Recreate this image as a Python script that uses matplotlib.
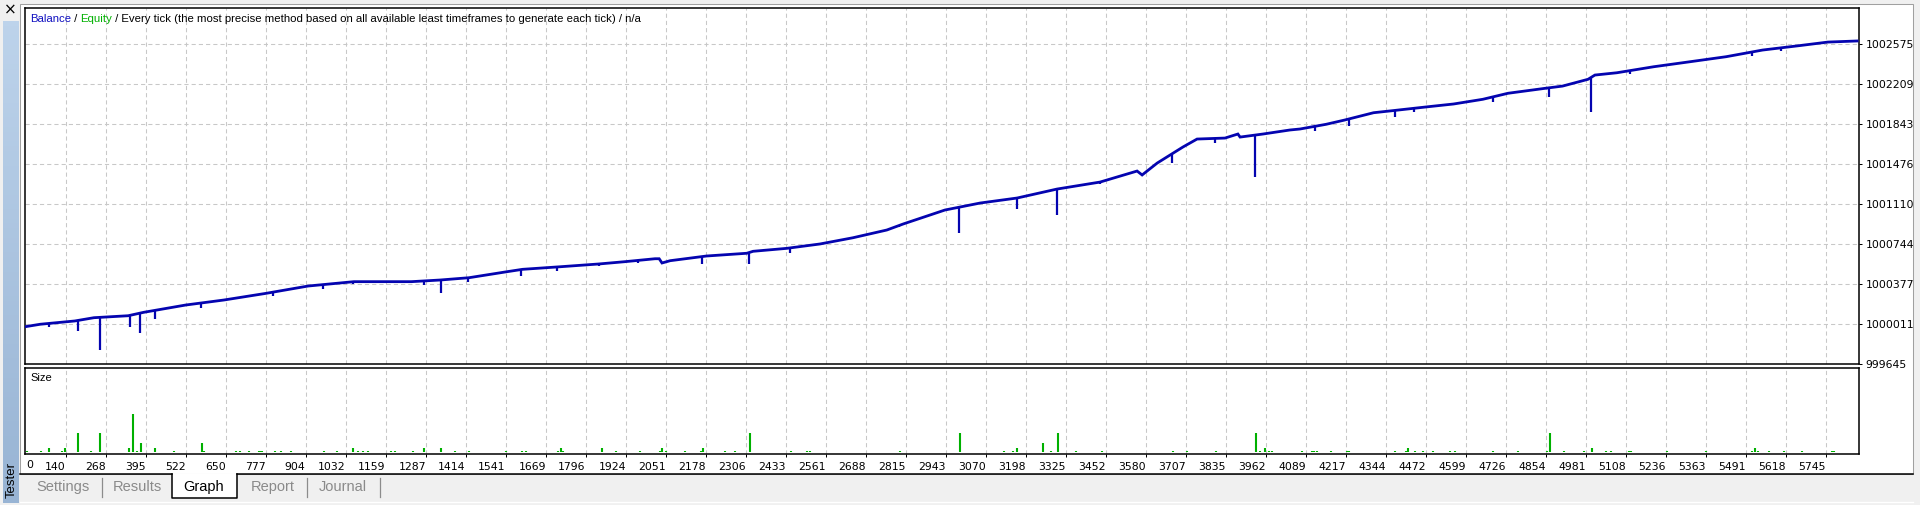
import numpy as np
import matplotlib.pyplot as plt
from matplotlib.patches import Rectangle
from matplotlib.lines import Line2D
from matplotlib.colors import LinearSegmentedColormap

# balance curve (trade number, balance)
trade_no = [10, 59, 169, 230, 339, 388, 522, 644, 778, 912, 1058, 1241, 1332, 1424,
            1545, 1595, 1717, 1838, 1921, 2017, 2030, 2039, 2065, 2181, 2309, 2329,
            2436, 2542, 2647, 2755, 2807, 2861, 2940, 3052, 3170, 3297, 3434, 3552,
            3568, 3616, 3698, 3743, 3832, 3873, 3880, 3953, 4039, 4071, 4154, 4213,
            4305, 4363, 4479, 4560, 4653, 4733, 4850, 4907, 4988, 5010, 5080, 5197,
            5313, 5428, 5544, 5660, 5752, 5845]
balance = [999986, 1000009, 1000039, 1000069, 1000087, 1000118, 1000185, 1000231,
           1000292, 1000359, 1000399, 1000399, 1000414, 1000435, 1000490, 1000512,
           1000536, 1000561, 1000582, 1000609, 1000609, 1000570, 1000591, 1000634,
           1000659, 1000677, 1000704, 1000744, 1000801, 1000872, 1000927, 1000979,
           1001055, 1001119, 1001165, 1001247, 1001311, 1001412, 1001376, 1001485,
           1001632, 1001705, 1001714, 1001751, 1001723, 1001751, 1001788, 1001797,
           1001840, 1001879, 1001946, 1001964, 1002001, 1002026, 1002069, 1002124,
           1002169, 1002190, 1002252, 1002291, 1002312, 1002367, 1002413, 1002459,
           1002520, 1002560, 1002593, 1002603]

# equity drawdowns (trade number, lowest equity)
dip_no = [86, 178, 248, 345, 378, 424, 571, 800, 958, 1056, 1280, 1335, 1421, 1589,
          1705, 1838, 1964, 2166, 2316, 2448, 2795, 2985, 3170, 3297, 3434, 3662,
          3800, 3928, 4120, 4228, 4372, 4433, 4684, 4863, 4997, 5122, 5509, 5604]
dip_low = [999981, 999950, 999773, 999981, 999926, 1000054, 1000155, 1000268,
           1000329, 1000378, 1000368, 1000292, 1000399, 1000451, 1000497, 1000542,
           1000567, 1000558, 1000558, 1000664, 1000897, 1000844, 1001064, 1001009,
           1001293, 1001488, 1001666, 1001357, 1001781, 1001827, 1001909, 1001955,
           1002047, 1002092, 1001950, 1002298, 1002468, 1002514]

# position sizes
size_no = [18, 60, 87, 128, 138, 180, 219, 250, 343, 353, 368, 381, 425, 484, 575, 581,
           683, 694, 723, 755, 759, 766, 806, 826, 859, 962, 1005, 1055, 1071, 1086,
           1103, 1175, 1188, 1247, 1281, 1336, 1380, 1425, 1543, 1594, 1605, 1708, 1718,
           1724, 1848, 1891, 1968, 2033, 2039, 2051, 2111, 2163, 2170, 2241, 2272, 2319,
           2451, 2501, 2510, 2798, 2989, 3129, 3158, 3168, 3251, 3279, 3301, 3359, 3439,
           3666, 3711, 3802, 3931, 3943, 3959, 3972, 3982, 4076, 4108, 4116, 4124, 4169,
           4219, 4228, 4374, 4407, 4416, 4438, 4461, 4495, 4549, 4564, 4686, 4765, 4858,
           4868, 4911, 4975, 5000, 5044, 5060, 5120, 5126, 5238, 5364, 5510, 5521, 5529,
           5564, 5613, 5670, 5764, 5770]
size_lots = [0.01, 0.01, 0.04, 0.01, 0.04, 0.19, 0.01, 0.19, 0.04, 0.39, 0.01, 0.09,
             0.04, 0.01, 0.09, 0.01, 0.01, 0.01, 0.01, 0.01, 0.01, 0.01, 0.01, 0.01,
             0.01, 0.01, 0.01, 0.04, 0.01, 0.01, 0.01, 0.01, 0.01, 0.01, 0.04, 0.04,
             0.01, 0.01, 0.01, 0.01, 0.01, 0.01, 0.04, 0.01, 0.04, 0.01, 0.01, 0.01,
             0.04, 0.01, 0.01, 0.01, 0.04, 0.01, 0.01, 0.19, 0.01, 0.01, 0.01, 0.01,
             0.19, 0.01, 0.01, 0.04, 0.09, 0.01, 0.19, 0.01, 0.01, 0.01, 0.01, 0.01,
             0.19, 0.01, 0.04, 0.01, 0.01, 0.01, 0.01, 0.01, 0.01, 0.01, 0.01, 0.01,
             0.01, 0.01, 0.04, 0.01, 0.01, 0.01, 0.01, 0.01, 0.01, 0.01, 0.01, 0.19,
             0.01, 0.01, 0.04, 0.01, 0.01, 0.01, 0.01, 0.01, 0.01, 0.01, 0.04, 0.01,
             0.01, 0.01, 0.01, 0.01, 0.01]

y_ticks = [999645, 1000011, 1000377, 1000744, 1001110, 1001476, 1001843, 1002209, 1002575]
x_ticks = [140, 268, 395, 522, 650, 777, 904, 1032, 1159, 1287, 1414, 1541, 1669, 1796,
           1924, 2051, 2178, 2306, 2433, 2561, 2688, 2815, 2943, 3070, 3198, 3325, 3452,
           3580, 3707, 3835, 3962, 4089, 4217, 4344, 4472, 4599, 4726, 4854, 4981, 5108,
           5236, 5363, 5491, 5618, 5745]
title_parts = ['Balance', ' / ', 'Equity',
               ' / Every tick (the most precise method based on all available least '
               'timeframes to generate each tick) / n/a']
title_colors = ['#1010c0', 'black', '#00b000', 'black']
tabs = ['Settings', 'Results', 'Graph', 'Report', 'Journal']
tab_x = [63, 137, 204, 273, 343]

W, H = 1920, 505
BLUE = '#0404b0'
GREEN = '#00b000'
GRID = '#c8c8c8'
plt.rcParams['lines.scale_dashes'] = False


def fx(x):
    return x / W


def fy(y):
    return 1 - y / H


def box(x0, y0, x1, y1):
    return [fx(x0), fy(y1), fx(x1) - fx(x0), fy(y0) - fy(y1)]


fig = plt.figure(figsize=(W / 100, H / 100), dpi=100, facecolor='#f0f0f0')

# window background
fig.patches.append(Rectangle((fx(20), fy(474)), fx(1913) - fx(20), fy(3.5) - fy(474),
                             transform=fig.transFigure, facecolor='white',
                             edgecolor='#a0a0a0', lw=0.75, zorder=-5))

# left "Tester" strip
strip = fig.add_axes(box(3, 21, 19, 503))
cmap = LinearSegmentedColormap.from_list('strip', ['#bdd3eb', '#98b4d4'])
strip.imshow(np.linspace(0, 1, 100).reshape(-1, 1), aspect='auto', cmap=cmap)
strip.set_axis_off()
fig.text(fx(11.5), fy(480), 'Tester', rotation=90, ha='center', va='center',
         fontsize=9.5, family='Liberation Sans')
fig.text(fx(10), fy(10), '\u00d7', ha='center', va='center', fontsize=11,
         family='DejaVu Sans')

# main balance / equity panel
ax = fig.add_axes(box(25, 8, 1859, 364))
ax.set_xlim(10.4, 5851)
ax.set_ylim(999645, 1002905)
ax.plot(trade_no, balance, color=BLUE, lw=2, solid_joinstyle='miter', zorder=3)
dip_top = np.interp(dip_no, trade_no, balance)
ax.vlines(dip_no, dip_low, dip_top, color=BLUE, lw=1.6, zorder=3)
ax.set_xticks(x_ticks)
ax.set_yticks(y_ticks)
ax.set_yticklabels([str(v) for v in y_ticks])
ax.yaxis.tick_right()
ax.tick_params(axis='y', length=2.2, width=0.72, pad=2.4, labelsize=7.8)
ax.tick_params(axis='x', length=0, labelbottom=False)
ax.grid(True, color=GRID, lw=0.75, ls=(0, (3, 2.2)))
for s in ax.spines.values():
    s.set_linewidth(1.1)

# multi-coloured title
t = ax.text(fx(30), fy(21.5), title_parts[0], transform=fig.transFigure,
            color=title_colors[0], fontsize=8.2, family='Liberation Sans')
for txt, col in zip(title_parts[1:], title_colors[1:]):
    t = ax.annotate(txt, xycoords=t, xy=(1, 0), va='bottom', color=col,
                    fontsize=8.2, family='Liberation Sans', annotation_clip=False)

# size panel
ax2 = fig.add_axes(box(25, 368, 1859, 454))
ax2.set_xlim(10.4, 5851)
ax2.set_ylim(-0.016, 0.847)
ax2.vlines(size_no, 0, size_lots, color=GREEN, lw=1.5)
ax2.set_xticks(x_ticks)
ax2.set_xticklabels([str(v) for v in x_ticks])
for lbl in ax2.get_xticklabels():
    lbl.set_ha('right')
ax2.set_yticks([])
ax2.tick_params(axis='x', length=2.2, width=0.72, pad=3.2, labelsize=7.8)
ax2.grid(True, axis='x', color=GRID, lw=0.75, ls=(0, (3, 2.2)))
for s in ax2.spines.values():
    s.set_linewidth(1.1)
ax2.annotate('0', xy=(0, 0), xycoords='axes fraction', xytext=(1.2, -4.1),
             textcoords='offset points', ha='left', va='top', fontsize=7.8)
ax2.text(fx(30), fy(378), 'Size', transform=fig.transFigure,
         ha='left', va='center', fontsize=8, family='Liberation Sans')

# tabs along the bottom
line_kw = dict(transform=fig.transFigure, color='black', lw=1.1)
fig.add_artist(Line2D([fx(20), fx(172)], [fy(474), fy(474)], **line_kw))
fig.add_artist(Line2D([fx(237), fx(1913)], [fy(474), fy(474)], **line_kw))
fig.patches.append(Rectangle((fx(172), fy(498)), fx(237) - fx(172), fy(474) - fy(498),
                             transform=fig.transFigure, facecolor='white',
                             edgecolor='none', zorder=1))
fig.add_artist(Line2D([fx(172), fx(172), fx(237), fx(237)],
                      [fy(474), fy(498), fy(498), fy(474)], **line_kw))
for sx in [101.5, 307, 379.5]:
    fig.add_artist(Line2D([fx(sx), fx(sx)], [fy(478), fy(497)], transform=fig.transFigure,
                          color='#8c8c8c', lw=0.9))
fig.add_artist(Line2D([fx(20), fx(1913)], [fy(502), fy(502)], transform=fig.transFigure,
                      color='white', lw=1))
for name, x in zip(tabs, tab_x):
    fig.text(fx(x), fy(487), name, ha='center', va='center', fontsize=10.5,
             family='Liberation Sans', color='black' if name == 'Graph' else '#8a8a8a')

fig.savefig('out.png', dpi=100, facecolor=fig.get_facecolor())
